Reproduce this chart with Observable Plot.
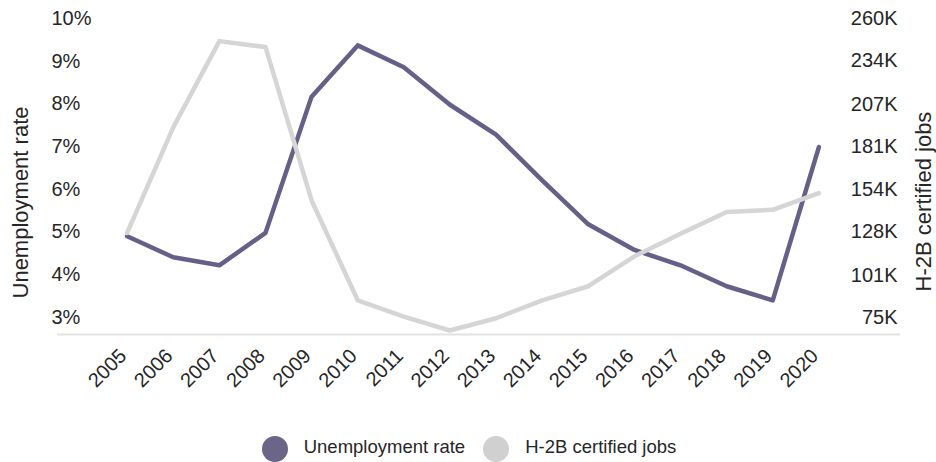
<!DOCTYPE html>
<html>
<head>
<meta charset="utf-8">
<script src="https://cdn.jsdelivr.net/npm/d3@7"></script>
<script src="https://cdn.jsdelivr.net/npm/@observablehq/plot@0.6"></script>
<style>
  html, body { margin: 0; padding: 0; background: #ffffff; }
  #chart { width: 936px; height: 462px; overflow: hidden; font-family: "Liberation Sans", Arial, sans-serif; color: #262626; }
  #chart svg { display: block; }
  .legend { display: flex; justify-content: center; align-items: center; margin-top: 21px; height: 26px; padding-left: 2px; }
  .legend .item { display: flex; align-items: center; }
  .legend .swatch { width: 26px; height: 26px; border-radius: 50%; margin-right: 16px; }
  .legend .label { font-size: 18.5px; position: relative; top: -2px; white-space: nowrap; }
  .legend .item + .item { margin-left: 18px; }
</style>
</head>
<body>
<div id="chart"></div>
<script>
// ---- data ----
const years = [2005, 2006, 2007, 2008, 2009, 2010, 2011, 2012, 2013, 2014, 2015, 2016, 2017, 2018, 2019, 2020];
const unemploymentRate = [4.9, 4.41, 4.22, 4.98, 8.17, 9.37, 8.86, 7.98, 7.28, 6.21, 5.18, 4.58, 4.22, 3.73, 3.40, 6.99]; // %
const h2bCertifiedJobs = [127.3, 192.6, 246, 242.3, 147.4, 85.6, 75.5, 66.9, 74.5, 85.6, 94.3, 112.8, 126.8, 140.3, 141.6, 151.9]; // thousands
const rateTicks = [3, 4, 5, 6, 7, 8, 9, 10];
const jobsTicks = [75, 101, 128, 154, 181, 207, 234, 260];
const seriesNames = ["Unemployment rate", "H-2B certified jobs"];
const seriesColors = ["#666088", "#d5d5d5"];

// map the right (jobs) axis onto the left (rate) axis: 75K <-> 3%, 260K <-> 10%
const rateMin = 3, rateMax = 10, jobsMin = 75, jobsMax = 260;
const jobsToRate = j => rateMin + (j - jobsMin) * (rateMax - rateMin) / (jobsMax - jobsMin);
const rateToJobs = r => jobsMin + (r - rateMin) * (jobsMax - jobsMin) / (rateMax - rateMin);

const rows = years.map((year, i) => ({year, rate: unemploymentRate[i], jobs: h2bCertifiedJobs[i]}));

const yBottom = 2.6;

const plot = Plot.plot({
  width: 936,
  height: 415,
  marginTop: 18,
  marginBottom: 81,
  marginLeft: 57,
  marginRight: 36,
  style: {fontFamily: '"Liberation Sans", Arial, sans-serif', fontSize: "20px", color: "#262626", background: "#ffffff", overflow: "visible"},
  x: {type: "linear", domain: [2003.49, 2021.77]},
  y: {domain: [yBottom, 10]},
  marks: [
    Plot.ruleY([yBottom], {stroke: "#e2e2e2", strokeWidth: 2}),
    Plot.axisX(years, {anchor: "bottom", tickSize: 0, tickPadding: 18, tickRotate: -45, dx: -4, tickFormat: d => String(d), fontSize: 20, label: null}),
    Plot.axisY(rateTicks, {anchor: "left", tickSize: 0, tickPadding: 6, textAnchor: "start", tickFormat: d => d + "%", fontSize: 20, label: null}),
    Plot.axisY(jobsTicks.map(jobsToRate), {anchor: "right", tickSize: 0, tickPadding: 0, textAnchor: "end", dx: -3, tickFormat: d => Math.round(rateToJobs(d)) + "K", fontSize: 20, label: null}),
    Plot.text([seriesNames[0]], {text: d => d, frameAnchor: "left", rotate: -90, textAnchor: "middle", lineAnchor: "middle", dx: -36.7, dy: 26, fontSize: 22, fill: "#262626"}),
    Plot.text(["H-2B certified jobs"], {text: d => d, frameAnchor: "right", rotate: -90, textAnchor: "middle", lineAnchor: "middle", dx: 23, dy: 25, fontSize: 22, fill: "#262626"}),
    Plot.line(rows, {x: "year", y: "rate", stroke: seriesColors[0], strokeWidth: 4.5}),
    Plot.line(rows, {x: "year", y: d => jobsToRate(d.jobs), stroke: seriesColors[1], strokeWidth: 4.5})
  ]
});

const chart = document.getElementById("chart");
chart.appendChild(plot);

// legend
const legend = document.createElement("div");
legend.className = "legend";
seriesNames.forEach((name, i) => {
  const item = document.createElement("div");
  item.className = "item";
  const sw = document.createElement("span");
  sw.className = "swatch";
  sw.style.background = i === 0 ? "#6b6587" : "#d0d0d0";
  const lab = document.createElement("span");
  lab.className = "label";
  lab.textContent = name;
  item.appendChild(sw);
  item.appendChild(lab);
  legend.appendChild(item);
});
chart.appendChild(legend);
</script>
</body>
</html>
